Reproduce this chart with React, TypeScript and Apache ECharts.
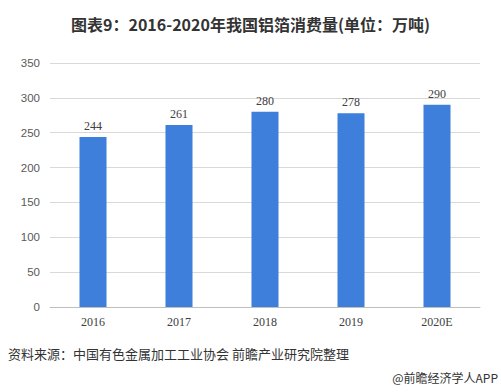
import React, { useEffect, useRef } from "react";
import * as echarts from "echarts";

const categories = ["2016", "2017", "2018", "2019", "2020E"];
const values = [244, 261, 280, 278, 290];
const titleText = "图表9：2016-2020年我国铝箔消费量(单位：万吨)";
const sourceText = "资料来源：中国有色金属加工工业协会 前瞻产业研究院整理";
const creditText = "@前瞻经济学人APP";

export default function App() {
  const ref = useRef<HTMLDivElement>(null);
  useEffect(() => {
    if (!ref.current) return;
    const chart = echarts.init(ref.current, null, { renderer: "svg" });
    chart.setOption({
      animation: false,
      backgroundColor: "#ffffff",
      title: {
        text: titleText,
        left: "center",
        top: 11,
        textStyle: {
          fontFamily: "Noto Sans CJK SC",
          fontWeight: "bold",
          fontSize: 16,
          color: "#333333",
        },
      },
      grid: { left: 50, right: 21, top: 63, bottom: 85 },
      xAxis: {
        type: "category",
        data: categories,
        axisLine: { lineStyle: { color: "#bfbfbf" } },
        axisTick: { show: false },
        axisLabel: {
          fontFamily: "Liberation Serif",
          fontSize: 12,
          color: "#404040",
          margin: 9,
        },
      },
      yAxis: {
        type: "value",
        min: 0,
        max: 350,
        interval: 50,
        axisLine: { show: false },
        axisTick: { show: false },
        splitLine: { lineStyle: { color: "#d9d9d9" } },
        axisLabel: {
          fontFamily: "Liberation Sans",
          fontSize: 11.5,
          color: "#595959",
          margin: 10,
        },
      },
      series: [
        {
          type: "bar",
          data: values,
          barWidth: 27,
          itemStyle: { color: "#3d7fdb" },
          label: {
            show: true,
            position: "top",
            distance: 5,
            fontFamily: "Liberation Serif",
            fontSize: 12,
            color: "#404040",
          },
        },
      ],
      graphic: [
        {
          type: "text",
          left: 8,
          top: 347,
          style: {
            text: sourceText,
            fontFamily: "Noto Sans CJK SC",
            fontSize: 13,
            fill: "#333333",
          },
        },
        {
          type: "text",
          right: 3,
          top: 371,
          style: {
            text: creditText,
            fontFamily: "Noto Sans CJK SC",
            fontSize: 12,
            fill: "#333333",
          },
        },
      ],
    });
    return () => chart.dispose();
  }, []);
  return <div ref={ref} style={{ width: 501, height: 392, position: "absolute", left: 0, top: 0 }} />;
}
